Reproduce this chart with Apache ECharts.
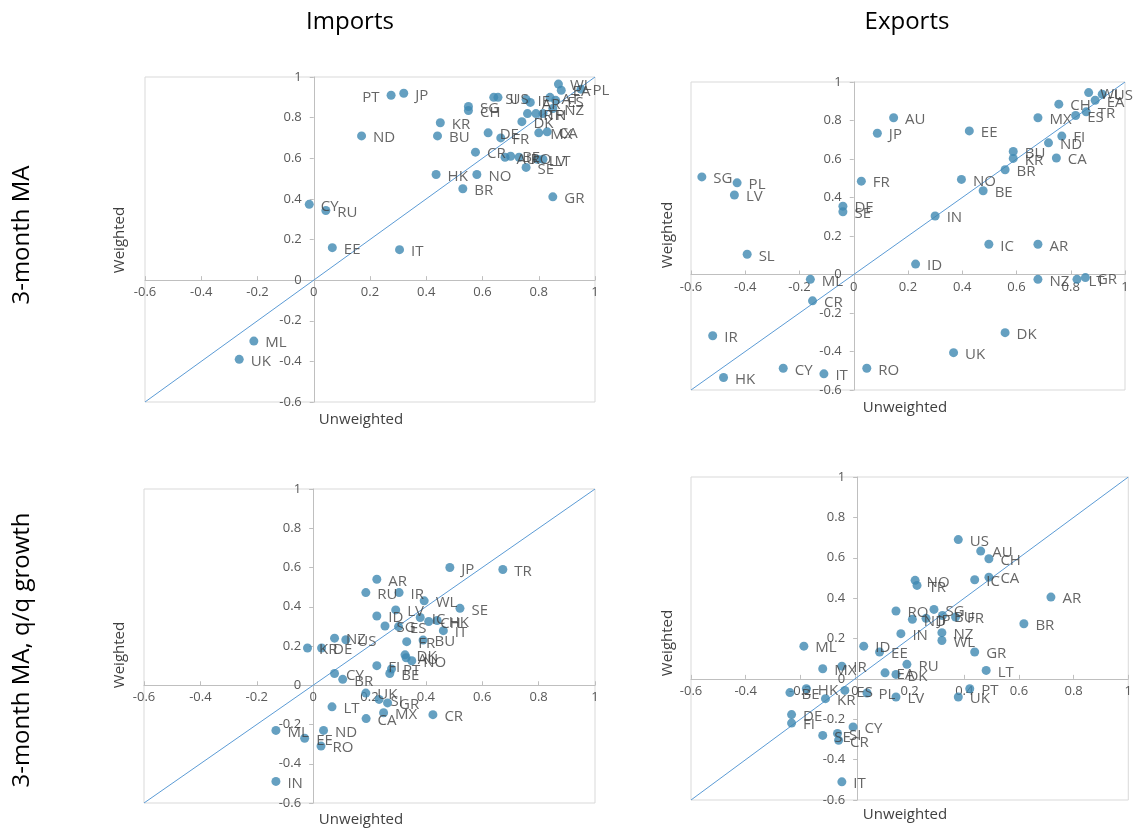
<!DOCTYPE html>
<html>
<head>
<meta charset="utf-8">
<script src="https://cdn.jsdelivr.net/npm/echarts@6/dist/echarts.min.js"></script>
<style>
html,body{margin:0;padding:0;background:#fff;}
#chart{width:1135px;height:829px;}
</style>
</head>
<body>
<div id="chart"></div>
<script>
// ---------- Data ----------
// Panel 1: Imports, 3-month MA
const impMaCodes = ['PT','JP','ND','KR','BU','SG','CH','SI','US','WL','EA','PL','AT','ES','NZ','IE','AR','IR','TR','FI','DK','MX','CA','DE','FR','CR','AU','BE','RO','SE','LV','LT','HK','NO','BR','GR','IT','EE','CY','RU','ML','UK'];
const impMaX = [0.275,0.32,0.17,0.45,0.44,0.55,0.55,0.64,0.655,0.87,0.88,0.95,0.84,0.86,0.85,0.755,0.77,0.76,0.79,0.815,0.74,0.80,0.83,0.62,0.665,0.575,0.68,0.70,0.73,0.755,0.795,0.815,0.435,0.58,0.53,0.85,0.305,0.066,-0.016,0.043,-0.213,-0.265];
const impMaY = [0.91,0.92,0.71,0.775,0.71,0.855,0.835,0.90,0.90,0.965,0.935,0.94,0.90,0.885,0.845,0.89,0.875,0.82,0.82,0.82,0.78,0.725,0.73,0.725,0.70,0.63,0.605,0.61,0.605,0.555,0.595,0.595,0.52,0.52,0.45,0.41,0.15,0.16,0.373,0.343,-0.30,-0.39];

// Panel 2: Exports, 3-month MA
const expMaCodes = ['SG','PL','LV','SL','DE','SE','ML','CR','IR','HK','CY','IT','RO','FR','JP','AU','EE','IN','NO','BE','BR','KR','BU','ND','FI','CA','MX','CH','ES','TR','WL','US','EA','IC','AR','ID','NZ','LT','GR','DK','UK'];
const expMaX = [-0.56,-0.43,-0.44,-0.393,-0.04,-0.04,-0.16,-0.152,-0.52,-0.48,-0.26,-0.11,0.048,0.028,0.087,0.147,0.426,0.30,0.397,0.477,0.558,0.588,0.588,0.718,0.767,0.747,0.679,0.756,0.818,0.857,0.866,0.916,0.89,0.498,0.679,0.228,0.679,0.823,0.854,0.558,0.368];
const expMaY = [0.507,0.476,0.413,0.105,0.355,0.326,-0.025,-0.137,-0.318,-0.535,-0.487,-0.516,-0.487,0.485,0.734,0.814,0.746,0.304,0.494,0.435,0.544,0.603,0.639,0.684,0.719,0.605,0.814,0.885,0.826,0.845,0.945,0.937,0.905,0.157,0.157,0.054,-0.025,-0.025,-0.016,-0.302,-0.406];

// Panel 3: Imports, 3-month MA q/q growth
const impQqCodes = ['KR','DE','NZ','US','CY','BR','LT','ML','ND','EE','RO','IN','RU','AR','JP','TR','IR','WL','SE','LV','ID','SG','ES','IC','CH','HK','IT','FR','BU','DK','AU','NO','FI','PT','BE','CR','UK','SI','GR','CA','MX'];
const impQqX = [-0.02,0.03,0.076,0.116,0.076,0.105,0.067,-0.132,0.037,-0.03,0.028,-0.132,0.187,0.226,0.485,0.673,0.305,0.394,0.521,0.293,0.226,0.255,0.303,0.38,0.41,0.44,0.462,0.332,0.39,0.326,0.33,0.35,0.226,0.278,0.272,0.425,0.187,0.234,0.264,0.188,0.25];
const impQqY = [0.19,0.19,0.24,0.232,0.06,0.03,-0.11,-0.23,-0.23,-0.27,-0.31,-0.49,0.472,0.54,0.60,0.59,0.472,0.43,0.392,0.384,0.353,0.302,0.299,0.345,0.325,0.33,0.278,0.222,0.23,0.155,0.14,0.125,0.10,0.083,0.06,-0.15,-0.04,-0.072,-0.09,-0.17,-0.14];

// Panel 4: Exports, 3-month MA q/q growth
const expQqCodes = ['ML','MX','IR','ID','EE','EA','DK','RO','IN','PL','ES','BE','HK','KR','DE','FI','SE','SI','CR','CY','IT','US','AU','CH','IC','CA','NO','TR','AR','BR','SG','ND','JP','BU','FR','NZ','WL','GR','LT','PT','UK','RU','LV'];
const expQqX = [-0.187,-0.118,-0.048,0.032,0.09,0.11,0.15,0.15,0.168,0.044,-0.037,-0.238,-0.178,-0.108,-0.232,-0.232,-0.118,-0.064,-0.06,-0.007,-0.048,0.378,0.46,0.49,0.438,0.49,0.22,0.227,0.717,0.618,0.289,0.21,0.26,0.32,0.368,0.318,0.318,0.438,0.48,0.42,0.378,0.19,0.15];
const expQqY = [0.162,0.05,0.063,0.162,0.133,0.03,0.022,0.336,0.224,-0.07,-0.057,-0.068,-0.049,-0.098,-0.177,-0.219,-0.28,-0.27,-0.304,-0.238,-0.51,0.69,0.633,0.595,0.491,0.504,0.488,0.463,0.405,0.273,0.344,0.295,0.30,0.314,0.306,0.229,0.19,0.133,0.042,-0.049,-0.09,0.072,-0.09];

// Axis range and 45-degree reference line
const axisMin = -0.6, axisMax = 1, axisStep = 0.2;
const diagEnds = [-0.6, 1];

// Labels placed to the left of their point
const leftLabels = { 0: ['PT'] };

// ---------- Chart ----------
const FONT = '"Open Sans", "Noto Sans", sans-serif';
const DOT = '#3F88B1';
const grids = [
  {left:145, top:77, width:450, height:325},
  {left:691, top:82, width:434, height:308},
  {left:144, top:489, width:451, height:314},
  {left:691, top:477, width:443, height:323}
];
const panels = [
  [impMaCodes, impMaX, impMaY],
  [expMaCodes, expMaX, expMaY],
  [impQqCodes, impQqX, impQqY],
  [expQqCodes, expQqX, expQqY]
];
// fraction of the axis span that lies below zero (axes cross at 0)
const zeroFrac = (0 - axisMin) / (axisMax - axisMin);

const xAxes = [], yAxes = [], series = [];
grids.forEach((g, i) => {
  const common = {
    type:'value', gridIndex:i, min:axisMin, max:axisMax, interval:axisStep,
    splitLine:{show:false},
    axisLine:{show:true, onZero:false, lineStyle:{color:'#bfbfbf', width:1}},
    axisLabel:{color:'#595959', fontSize:13, fontFamily:FONT}
  };
  xAxes.push(Object.assign({}, common, {
    position:'bottom', offset: -zeroFrac * g.height,
    axisTick:{show:true, inside:true, length:4, lineStyle:{color:'#bfbfbf'}},
    axisLabel:Object.assign({}, common.axisLabel, {margin:6})
  }));
  yAxes.push(Object.assign({}, common, {
    position:'left', offset: -zeroFrac * g.width,
    axisTick:{show:true, inside:false, length:4, lineStyle:{color:'#bfbfbf'}},
    axisLabel:Object.assign({}, common.axisLabel, {margin:12})
  }));
  const [codes, xs, ys] = panels[i];
  const left = leftLabels[i] || [];
  series.push({
    type:'line', xAxisIndex:i, yAxisIndex:i, silent:true, symbol:'none',
    data: diagEnds.map(v => [v, v]),
    lineStyle:{color:'#5B9BD5', width:1}, z:1
  });
  series.push({
    type:'scatter', xAxisIndex:i, yAxisIndex:i, symbolSize:9, z:3,
    itemStyle:{color:DOT},
    data: codes.map((c, k) => {
      const d = {name:c, value:[xs[k], ys[k]]};
      if (left.includes(c)) d.label = {position:'left'};
      return d;
    }),
    label:{show:true, position:'right', distance:7, formatter:'{b}',
      color:'#404040', fontSize:15, fontFamily:FONT, offset:[0,2]}
  });
});

function txt(x, y, text, size, color, rot) {
  return {type:'text', x:x, y:y, rotation:rot || 0, silent:true,
    style:{text:text, x:0, y:0, align:'center', verticalAlign:'middle',
      font: size + 'px ' + FONT, fill:color}};
}

const option = {
  animation:false,
  backgroundColor:'#ffffff',
  grid: grids.map(g => Object.assign({show:true, borderColor:'#d9d9d9', borderWidth:1, backgroundColor:'transparent'}, g)),
  xAxis: xAxes,
  yAxis: yAxes,
  series: series,
  graphic: [
    txt(350, 22, 'Imports', 24, '#000'),
    txt(907, 22, 'Exports', 24, '#000'),
    txt(22, 235, '3-month MA', 24, '#000', Math.PI/2),
    txt(22, 650, '3-month MA, q/q growth', 24, '#000', Math.PI/2),
    txt(120, 240, 'Weighted', 15, '#404040', Math.PI/2),
    txt(668, 235, 'Weighted', 15, '#404040', Math.PI/2),
    txt(120, 655, 'Weighted', 15, '#404040', Math.PI/2),
    txt(668, 643, 'Weighted', 15, '#404040', Math.PI/2),
    txt(361, 420, 'Unweighted', 15, '#404040'),
    txt(905, 408, 'Unweighted', 15, '#404040'),
    txt(361, 820, 'Unweighted', 15, '#404040'),
    txt(905, 815, 'Unweighted', 15, '#404040')
  ]
};
const chart = echarts.init(document.getElementById('chart'), null, {renderer:'canvas'});
chart.setOption(option);
</script>
</body>
</html>
